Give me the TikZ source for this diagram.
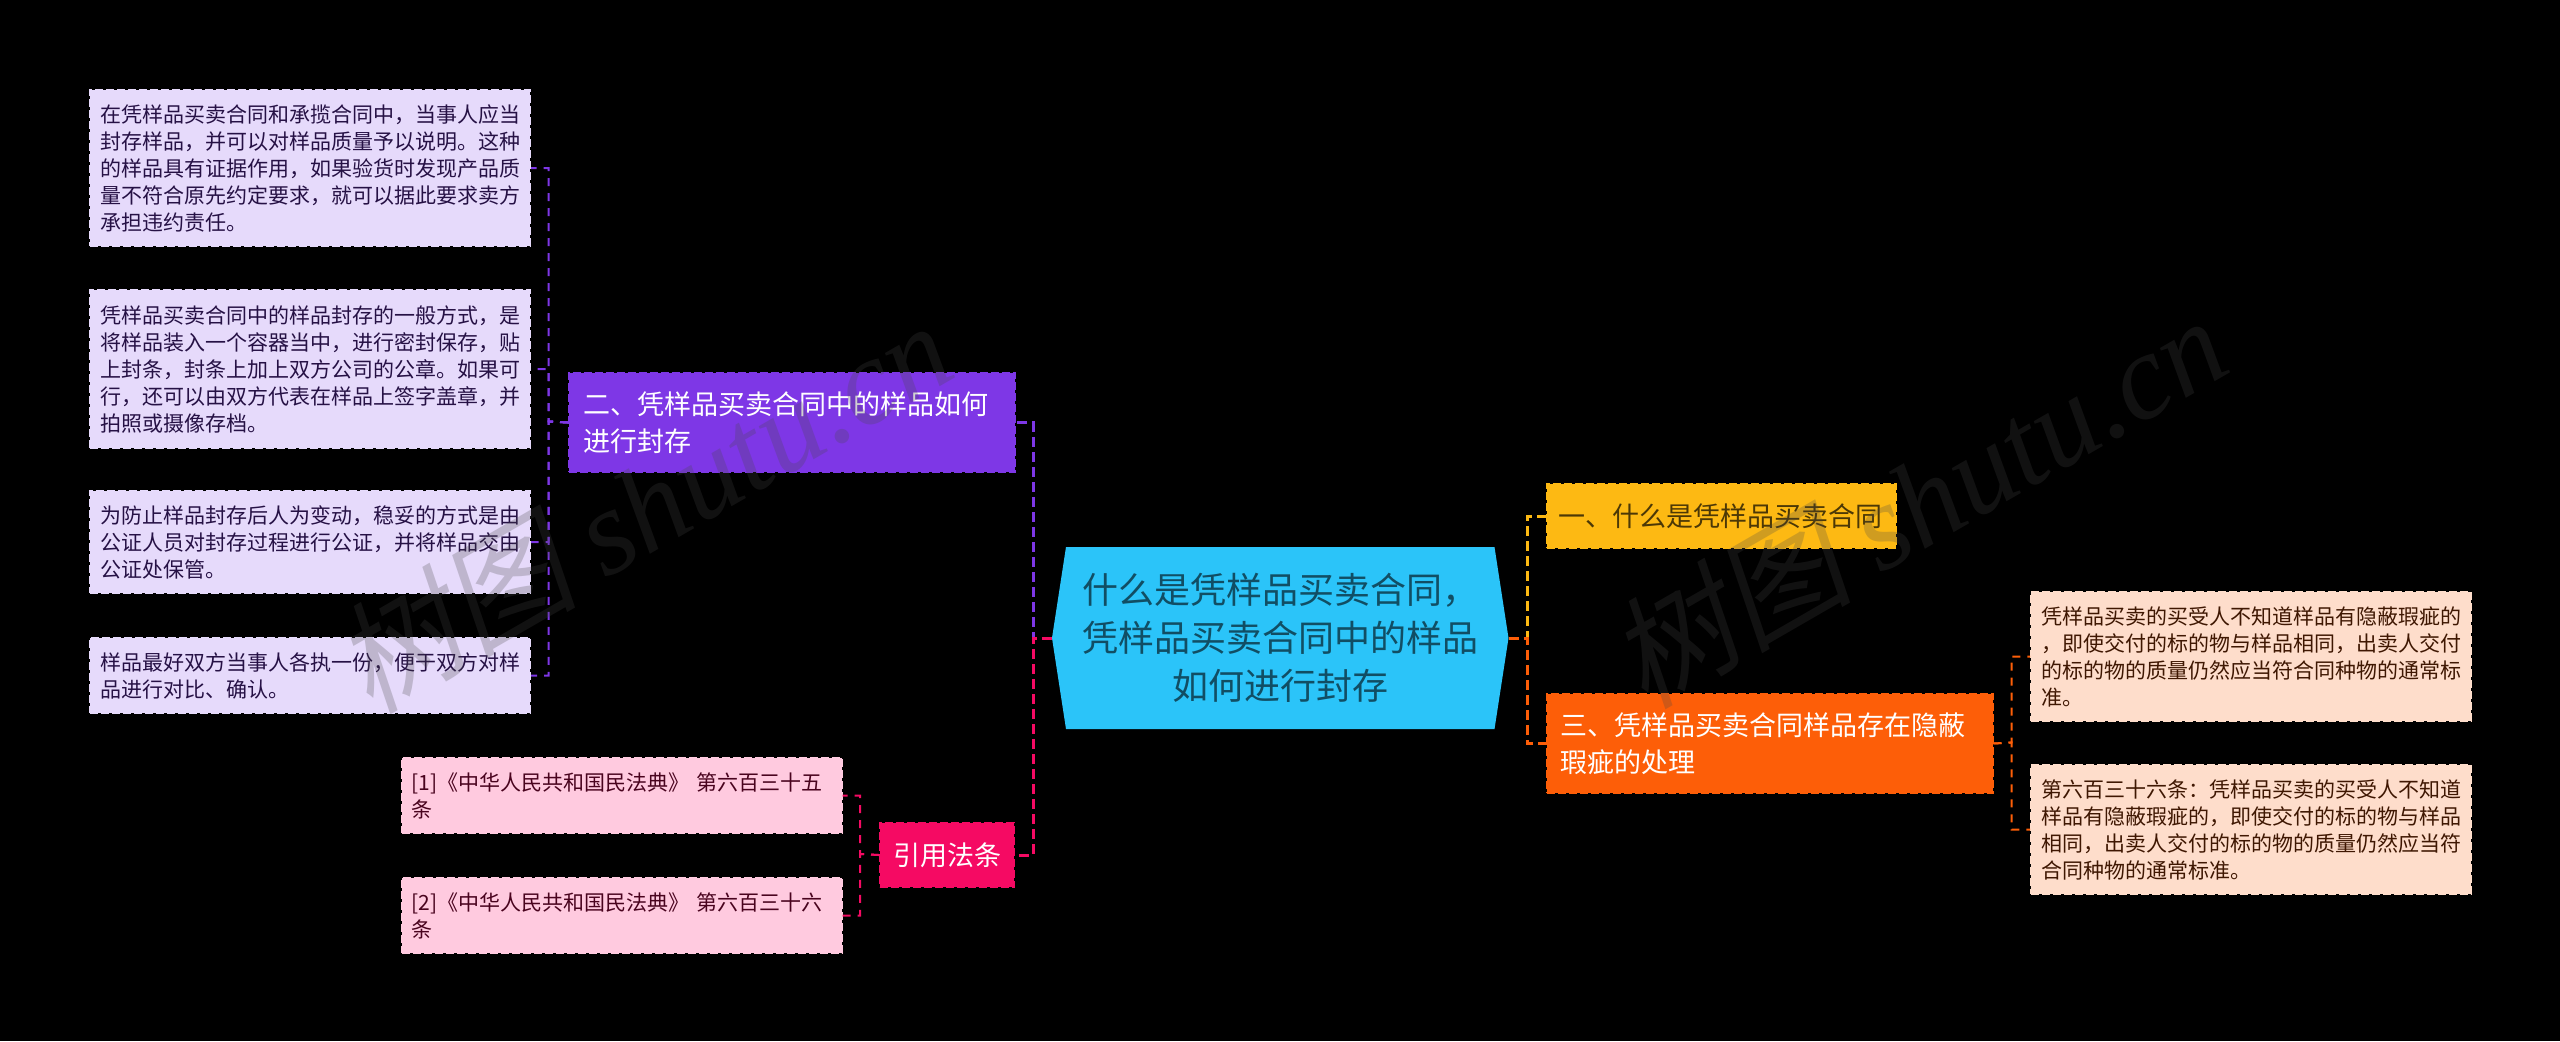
\documentclass[tikz,border=0pt]{standalone}
\usepackage{fontspec}
\setmainfont{Noto Sans CJK SC}
\newfontfamily\wmlatin{Liberation Serif}
\newfontfamily\wmcjk[FakeSlant=0.2]{Noto Sans CJK SC}
\newcommand{\leafs}{\fontsize{10.5}{13.5}\selectfont}
\newcommand{\heads}{\fontsize{13.5}{18.25}\selectfont}
\definecolor{mainc}{HTML}{2BC4F9}
\definecolor{purplec}{HTML}{7E37E6}
\definecolor{pinkc}{HTML}{F50A63}
\definecolor{yellowc}{HTML}{FDB913}
\definecolor{orangec}{HTML}{FD5E08}
\definecolor{lilacc}{HTML}{E6DAFB}
\definecolor{rosec}{HTML}{FFCADF}
\definecolor{peachc}{HTML}{FEDDCB}
\tikzset{
    mainbox/.style = {text=black!60!mainc, inner sep=0pt, minimum width=228.25pt, minimum height=91pt,
        align=center, font=\fontsize{18}{24}\selectfont,
        path picture={\fill[mainc] (path picture bounding box.west)
            -- ([xshift=7pt]path picture bounding box.north west)
            -- ([xshift=-7pt]path picture bounding box.north east)
            -- (path picture bounding box.east)
            -- ([xshift=-7pt]path picture bounding box.south east)
            -- ([xshift=7pt]path picture bounding box.south west) -- cycle;}},
    headbox/.style = {draw=#1, fill=#1, line width=1pt, dash pattern=on 4pt off 1.5pt, inner ysep=0pt, inner xsep=7pt,
        anchor=north west, align=left, font=\heads},
    leafbox/.style = {draw=#1, fill=#1, line width=1pt, dash pattern=on 4pt off 1.5pt, inner ysep=0pt, inner xsep=5pt,
        text width=210.1pt, anchor=north west, align=left, font=\leafs},
    trunk/.style = {draw=#1, line width=1.5pt, dash pattern=on 5pt off 2.5pt},
    twig/.style = {draw=#1, line width=1pt, dash pattern=on 4pt off 3.5pt},
    wmark/.style = {rotate=30, text=black!72, text opacity=0.25, font=\fontsize{61}{61}\selectfont}
}
\begin{document}
\begin{tikzpicture}[x=0.5pt,y=-0.5pt]
    \fill[black] (0,0) rectangle (2560,1041);
    \useasboundingbox (0,0) rectangle (2560,1041);

    \node[mainbox] (main) at (1280.25,638) {什么是凭样品买卖合同，\\凭样品买卖合同中的样品\\如何进行封存};

    \node[headbox=purplec, text=white, text width=209pt, minimum height=49.5pt] (second) at (568,372) {二、凭样品买卖合同中的样品如何\\进行封存};
    \node[headbox=pinkc, text=white, align=center, text width=54pt, inner xsep=6.5pt, minimum height=32pt] (law) at (879,822) {引用法条};
    \node[headbox=yellowc, text=black!70!yellowc, text width=162.5pt, inner xsep=6pt, minimum height=32pt] (first) at (1545.5,483) {一、什么是凭样品买卖合同};
    \node[headbox=orangec, text=white, text width=209pt, minimum height=49.5pt] (third) at (1545.5,693) {三、凭样品买卖合同样品存在隐蔽\\瑕疵的处理};

    \node[leafbox=lilacc, text=purplec!30!black, minimum height=78pt] (sa) at (89,89) {在凭样品买卖合同和承揽合同中，当事人应当\\封存样品，并可以对样品质量予以说明。这种\\的样品具有证据作用，如果验货时发现产品质\\量不符合原先约定要求，就可以据此要求卖方\\承担违约责任。};
    \node[leafbox=lilacc, text=purplec!30!black, minimum height=79pt] (sb) at (89,289) {凭样品买卖合同中的样品封存的一般方式，是\\将样品装入一个容器当中，进行密封保存，贴\\上封条，封条上加上双方公司的公章。如果可\\行，还可以由双方代表在样品上签字盖章，并\\拍照或摄像存档。};
    \node[leafbox=lilacc, text=purplec!30!black, minimum height=51pt] (sc) at (89,490) {为防止样品封存后人为变动，稳妥的方式是由\\公证人员对封存过程进行公证，并将样品交由\\公证处保管。};
    \node[leafbox=lilacc, text=purplec!30!black, minimum height=37.5pt] (sd) at (89,637) {样品最好双方当事人各执一份，便于双方对样\\品进行对比、确认。};

    \node[leafbox=rosec, text=pinkc!30!black, minimum height=37.5pt] (la) at (400.5,757) {[1]《中华人民共和国民法典》 第六百三十五\\条};
    \node[leafbox=rosec, text=pinkc!30!black, minimum height=37.5pt] (lb) at (400.5,877) {[2]《中华人民共和国民法典》 第六百三十六\\条};

    \node[leafbox=peachc, text=orangec!25!black, minimum height=64.5pt] (ta) at (2030,591) {凭样品买卖的买受人不知道样品有隐蔽瑕疵的\\，即使交付的标的物与样品相同，出卖人交付\\的标的物的质量仍然应当符合同种物的通常标\\准。};
    \node[leafbox=peachc, text=orangec!25!black, minimum height=64.5pt] (tb) at (2030,764) {第六百三十六条：凭样品买卖的买受人不知道\\样品有隐蔽瑕疵的，即使交付的标的物与样品\\相同，出卖人交付的标的物的质量仍然应当符\\合同种物的通常标准。};

    \coordinate (lfork) at (1033,638);
    \coordinate (rfork) at (1527,638);
    \coordinate (sfork) at (548.5,421.5);
    \coordinate (lawfork) at (860,854);
    \coordinate (tfork) at (2011.5,742.5);

    \draw[trunk=purplec] (main.west) -- (lfork) |- (second.east);
    \draw[trunk=pinkc] (main.west) -- (lfork) |- (law.east);
    \draw[trunk=yellowc] (main.east) -- (rfork) |- (first.west);
    \draw[trunk=orangec] (main.east) -- (rfork) |- (third.west);

    \draw[twig=purplec] (second.west) -- (sfork) |- (sa.east);
    \draw[twig=purplec] (second.west) -- (sfork) |- (sb.east);
    \draw[twig=purplec] (second.west) -- (sfork) |- (sc.east);
    \draw[twig=purplec] (second.west) -- (sfork) |- (sd.east);

    \draw[twig=pinkc] (law.west) -- (lawfork) |- (la.east);
    \draw[twig=pinkc] (law.west) -- (lawfork) |- (lb.east);

    \draw[twig=orangec] (third.east) -- (tfork) |- (ta.west);
    \draw[twig=orangec] (third.east) -- (tfork) |- (tb.west);

    \node[wmark] (wma) at (642,505) {{\wmcjk 树图} {\wmlatin\itshape shutu.cn}};
    \node[wmark] (wmb) at (1917,500) {{\wmcjk 树图} {\wmlatin\itshape shutu.cn}};
\end{tikzpicture}
\end{document}
